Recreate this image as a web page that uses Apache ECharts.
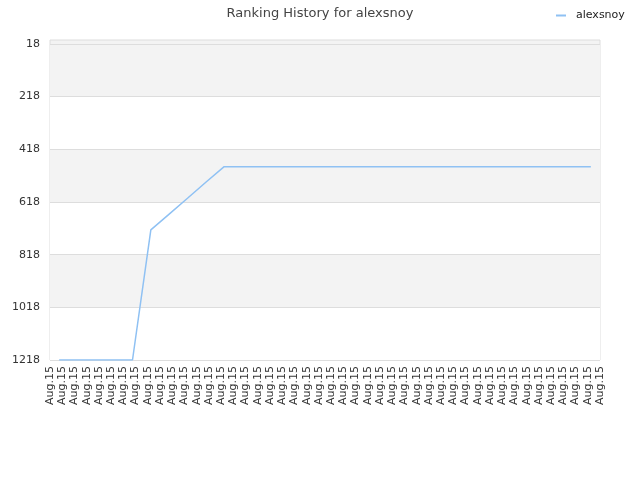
<!DOCTYPE html>
<html>
<head>
<meta charset="utf-8">
<script src="https://cdn.jsdelivr.net/npm/echarts@6/dist/echarts.min.js"></script>
<style>html,body{margin:0;padding:0;background:#fff;}#c{width:640px;height:480px;}</style>
</head>
<body>
<div id="c"></div>
<script>
var tickLabels = [];
for (var i = 0; i < 46; i++) tickLabels.push('Aug.15');
var pointCategories = [];
for (var j = 0; j < 30; j++) pointCategories.push('Aug.15');
var rankValues = [1218, 1218, 1218, 1218, 1218, 724, 664, 604, 543, 484,
  484, 484, 484, 484, 484, 484, 484, 484, 484, 484,
  484, 484, 484, 484, 484, 484, 484, 484, 484, 484];
var yTicks = [18, 218, 418, 618, 818, 1018, 1218];

var chart = echarts.init(document.getElementById('c'), null, {renderer: 'canvas'});
chart.setOption({
  backgroundColor: '#ffffff',
  textStyle: {fontFamily: 'DejaVu Sans'},
  title: {
    text: 'Ranking History for alexsnoy',
    left: 'center', top: 2,
    textStyle: {fontFamily: 'DejaVu Sans', fontSize: 13, fontWeight: 'normal', color: '#444444'}
  },
  legend: {
    left: 551, top: 5,
    icon: 'rect', itemWidth: 10, itemHeight: 2, itemGap: 10,
    textStyle: {fontFamily: 'DejaVu Sans', fontSize: 11, color: '#222222', padding: [0, 0, 0, 5]},
    data: ['alexsnoy']
  },
  grid: {
    left: 50, right: 40, top: 40, bottom: 120,
    show: true, backgroundColor: '#f3f3f3', borderColor: '#dddddd', borderWidth: 1
  },
  xAxis: [{
    type: 'category', data: tickLabels, boundaryGap: false,
    axisLine: {show: false}, axisTick: {show: false},
    splitLine: {show: false},
    axisLabel: {rotate: 90, interval: 0, fontFamily: 'DejaVu Sans', fontSize: 11, color: '#333333', margin: 6}
  }, {
    type: 'category', data: pointCategories, boundaryGap: true, show: false
  }],
  yAxis: {
    type: 'value', inverse: true, min: 3, max: 1218,
    axisLine: {show: false},
    axisTick: {show: false, customValues: yTicks},
    axisLabel: {customValues: yTicks, formatter: function (v) { return String(v); },
      fontFamily: 'DejaVu Sans', fontSize: 11, color: '#333333', margin: 10},
    splitLine: {show: true, lineStyle: {color: '#dddddd', width: 1}},
    splitArea: {show: true, areaStyle: {color: ['#f3f3f3', '#ffffff']}}
  },
  series: [{
    name: 'alexsnoy', type: 'line', xAxisIndex: 1,
    data: rankValues, showSymbol: false, symbol: 'none',
    lineStyle: {color: '#8fc1f3', width: 1.5},
    itemStyle: {color: '#8fc1f3'},
    animation: false
  }],
  animation: false
});
</script>
</body>
</html>
